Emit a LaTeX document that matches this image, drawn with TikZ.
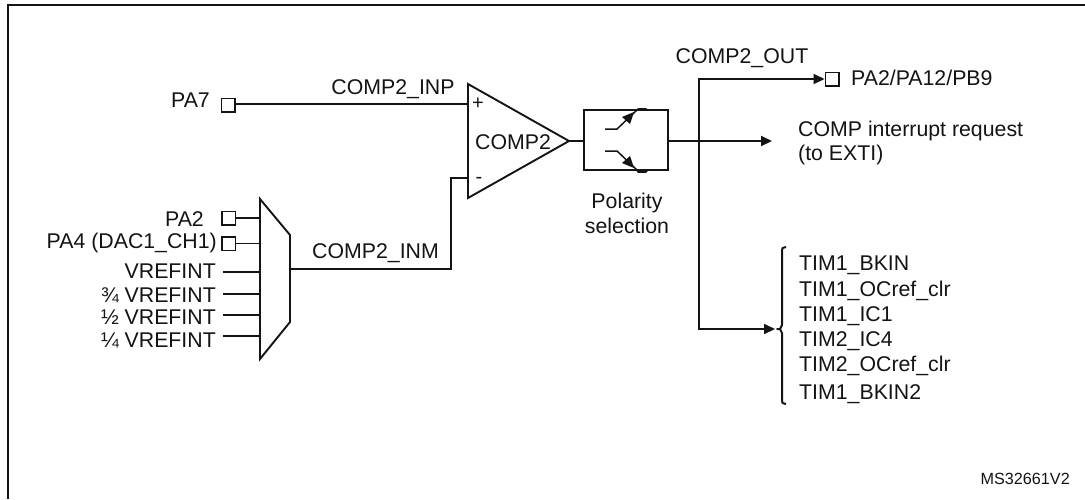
\documentclass[tikz,border=0pt]{standalone}
\usepackage{fontspec}
\setmainfont{Liberation Sans}
\usetikzlibrary{arrows.meta}
\tikzset{
  txt/.style={inner sep=0pt,font=\fontsize{21.3}{25}\selectfont,text=black!92},
  ltxt/.style={txt,anchor=west},
  rtxt/.style={txt,anchor=east},
  wire/.style={line width=1.5pt,draw=black!92},
  thick wire/.style={line width=2pt,draw=black!92},
  shape line/.style={line width=1.9pt,draw=black!92,line join=miter},
  arrowed/.style={-{Triangle[length=11pt,width=10pt]}},
  pad/.style={draw=black!92,line width=1.5pt,minimum size=13.5pt,inner sep=0pt,fill=white},
}
\begin{document}
\begin{tikzpicture}[x=1pt,y=-1pt]
\useasboundingbox (0,0) rectangle (1085,499);
\fill[white] (0,0) rectangle (1085,499);
\draw[line width=1.9pt,black!92] (8,499) -- (8,5) -- (1085,5);
% comparator
\coordinate (tl) at (468,84); \coordinate (bl) at (468,198); \coordinate (apex) at (569,141);
\draw[shape line] (tl) -- (apex) -- (bl) -- cycle;
\node[txt] (comp) at (513,142) {COMP2};
\node[txt,font=\fontsize{20}{22}\selectfont] (plus) at (478,104) {+};
\node[txt,font=\fontsize{20}{22}\selectfont] (minus) at (479,180) {-};
\coordinate (inp) at (468,104); \coordinate (inm) at (468,178);
% PA7
\node[pad] (pa7) at (228,105) {};
\node[rtxt] (pa7t) at (210,100) {PA7};
\draw[wire] (pa7.east|-inp) -- (inp);
\node[txt] (inpt) at (393,89) {COMP2\_INP};
% polarity box
\node[draw=black!92,line width=1.9pt,minimum width=84pt,minimum height=60pt,inner sep=0pt] (pol) at (626,140) {};
\draw[thick wire] (apex) -- (pol.west|-apex);
\coordinate (s1a) at (605,129); \coordinate (s1b) at (617,129); \coordinate (s1c) at (637,110);
\coordinate (s2a) at (605,151); \coordinate (s2b) at (617,151); \coordinate (s2c) at (637,170);
\draw[wire] (s1a) -- (s1b) -- (s1c);
\draw[wire] (s2a) -- (s2b) -- (s2c);
\draw[line width=3pt,black!92,line cap=round] (638,109) -- (646,109);
\draw[line width=3pt,black!92,line cap=round] (638,171) -- (646,171);
\fill[black!92] (634,112) -- (622,117) -- (630,124) -- cycle;
\fill[black!92] (634,168) -- (622,163) -- (630,156) -- cycle;
\node[txt] (polt) at (627,216) {\begin{tabular}{@{}c@{}}Polarity\\selection\end{tabular}};
% outputs
\coordinate (oJ) at (699,141);
\coordinate (irq) at (772,141);
\draw[thick wire,arrowed] (pol.east|-oJ) -- (irq);
\node[ltxt] (irq1) at (798,131) {COMP interrupt request};
\node[ltxt] (irq2) at (798,155) {(to EXTI)};
\node[pad] (paout) at (832,79) {};
\node[ltxt] (paoutt) at (851,78) {PA2/PA12/PB9};
\node[txt] (outt) at (742,58) {COMP2\_OUT};
\coordinate (top) at (699,79);
\coordinate (bot) at (699,329);
\coordinate (tim) at (775,329);
\draw[thick wire,arrowed,line join=miter] (oJ) -- (top) -- (paout.west);
\draw[thick wire,arrowed,line join=miter] (oJ) -- (bot) -- (tim);
% brace
\draw[line width=2pt,black!92,line join=round] (786,247) -- (782.5,248) -- (782,251) -- (782,325) -- (780,329) -- (777,329) -- (780,329) -- (782,333) -- (782,400) -- (782.5,403) -- (786,404);
\node[ltxt] (t1) at (799,265) {TIM1\_BKIN};
\node[ltxt] (t2) at (799,291) {TIM1\_OCref\_clr};
\node[ltxt] (t3) at (799,316) {TIM1\_IC1};
\node[ltxt] (t4) at (799,341) {TIM2\_IC4};
\node[ltxt] (t5) at (799,366) {TIM2\_OCref\_clr};
\node[ltxt] (t6) at (799,394) {TIM1\_BKIN2};
% mux
\coordinate (m1) at (260,199); \coordinate (m2) at (290,235); \coordinate (m3) at (290,322); \coordinate (m4) at (260,359);
\draw[shape line] (m1) -- (m2) -- (m3) -- (m4) -- cycle;
\node[pad] (pa2) at (228.5,218) {};
\node[pad] (pa4) at (228.5,243.5) {};
\draw[wire] (pa2.east) -- (260,218);
\draw[wire] (pa4.east) -- (260,243.5);
\node[rtxt] (pa2t) at (204,219) {PA2};
\node[rtxt] (pa4t) at (217,243) {PA4 (DAC1\_CH1)};
\node[rtxt] (v1) at (216,271) {VREFINT};
\node[rtxt] (v2) at (216,295) {¾ VREFINT};
\node[rtxt] (v3) at (216,317) {½ VREFINT};
\node[rtxt] (v4) at (216,340) {¼ VREFINT};
\coordinate (l1) at (223,272); \coordinate (l2) at (223,294); \coordinate (l3) at (223,315); \coordinate (l4) at (223,336);
\draw[wire] (l1) -- (260,272);
\draw[wire] (l2) -- (260,294);
\draw[wire] (l3) -- (260,315);
\draw[wire] (l4) -- (260,336);
\coordinate (mo) at (290,269); \coordinate (up) at (451,269);
\draw[wire] (mo) -- (up) -- (up|-inm) -- (inm);
\node[txt] (inmt) at (375.5,253) {COMP2\_INM};
\node[txt,anchor=east,font=\fontsize{16.2}{19}\selectfont] (ms) at (1070,479) {MS32661V2};
\end{tikzpicture}
\end{document}
